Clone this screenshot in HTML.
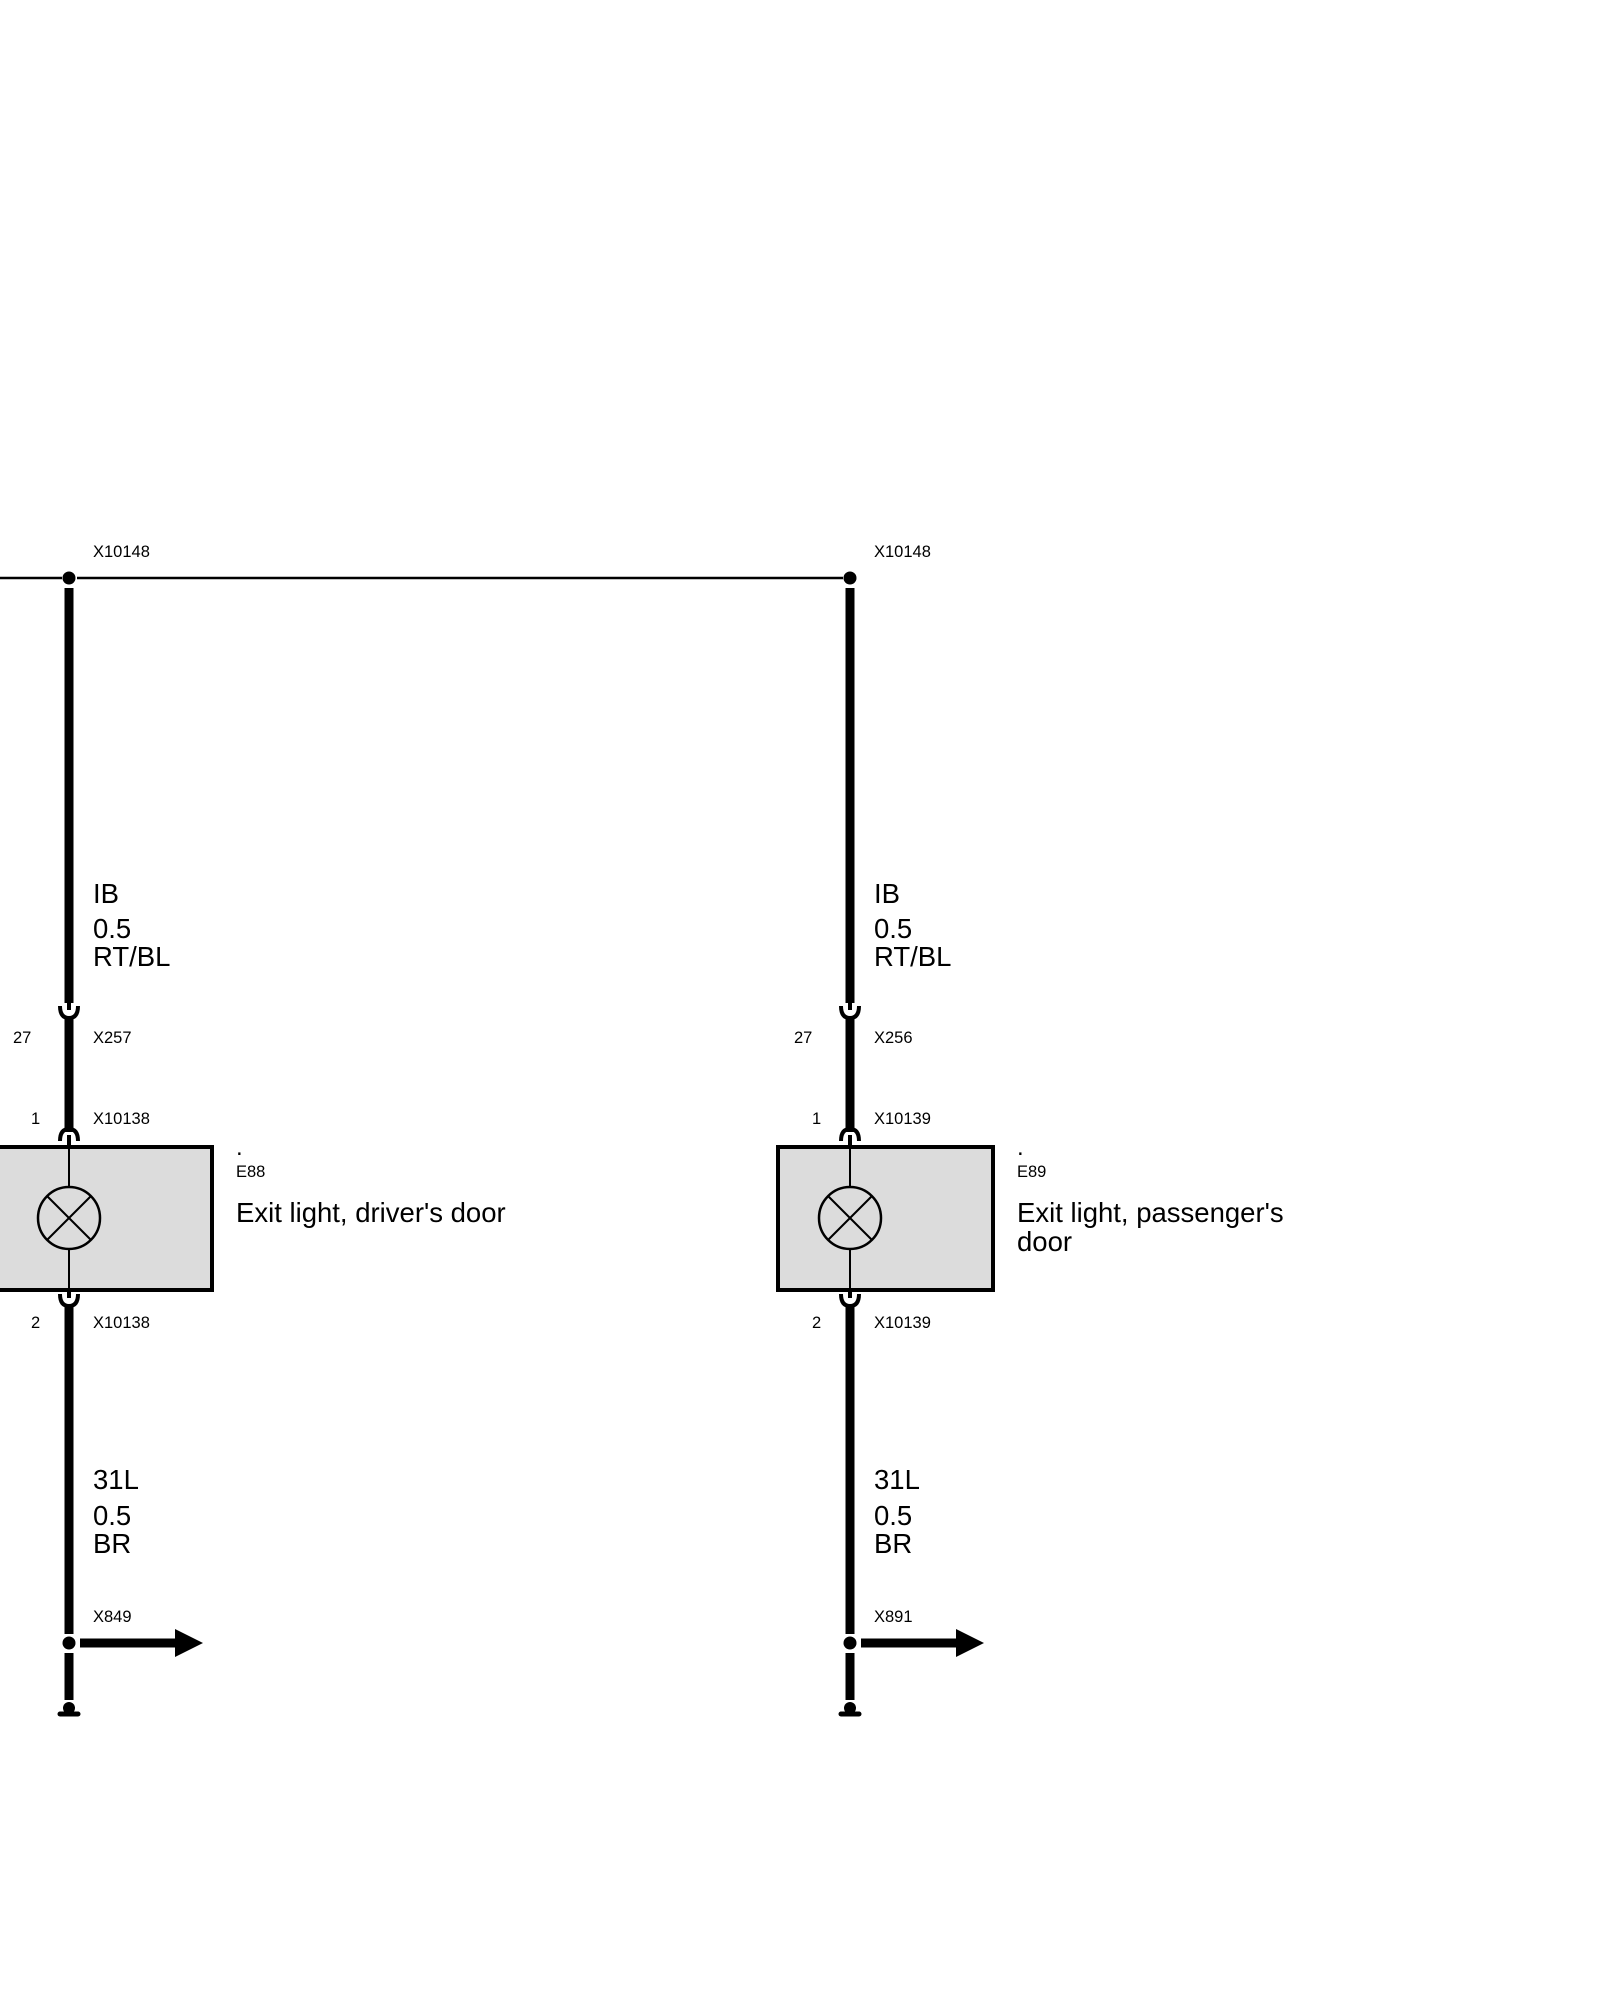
<!DOCTYPE html>
<html><head><meta charset="utf-8"><style>
html,body{margin:0;padding:0;background:#fff}
svg{display:block}
text{font-family:"Liberation Sans",Arial,sans-serif;fill:#000}
.s{font-size:16.5px}.l{font-size:27.5px}.d{font-size:24px}
</style></head><body>
<svg width="1600" height="2000" viewBox="0 0 1600 2000" xmlns="http://www.w3.org/2000/svg">
<line x1="0" y1="578" x2="62" y2="578" stroke="#000" stroke-width="2.5"/>
<line x1="77" y1="578" x2="843" y2="578" stroke="#000" stroke-width="2.5"/>
<rect x="-10" y="1147" width="222" height="143" fill="#dcdcdc" stroke="#000" stroke-width="4"/>
<rect x="778" y="1147" width="215" height="143" fill="#dcdcdc" stroke="#000" stroke-width="4"/>
<g id="L">
<circle cx="69" cy="578" r="6.5" fill="#000"/>
<line x1="69" y1="588" x2="69" y2="1003" stroke="#000" stroke-width="9"/>
<line x1="69" y1="1000" x2="69" y2="1010" stroke="#000" stroke-width="4"/>
<path d="M60,1006 Q60,1018 69,1018 Q78,1018 78,1006" fill="none" stroke="#000" stroke-width="4"/>
<line x1="69" y1="1016" x2="69" y2="1132" stroke="#000" stroke-width="9"/>
<path d="M60,1141 Q60,1129 69,1129 Q78,1129 78,1141" fill="none" stroke="#000" stroke-width="4"/>
<line x1="69" y1="1135" x2="69" y2="1147" stroke="#000" stroke-width="4"/>
<line x1="69" y1="1147" x2="69" y2="1187" stroke="#000" stroke-width="2"/>
<line x1="69" y1="1249" x2="69" y2="1290" stroke="#000" stroke-width="2"/>
<circle cx="69" cy="1218" r="31" fill="none" stroke="#000" stroke-width="2.5"/>
<line x1="47" y1="1196" x2="91" y2="1240" stroke="#000" stroke-width="2"/>
<line x1="91" y1="1196" x2="47" y2="1240" stroke="#000" stroke-width="2"/>
<path d="M60,1294 Q60,1306 69,1306 Q78,1306 78,1294" fill="none" stroke="#000" stroke-width="4"/>
<line x1="69" y1="1288" x2="69" y2="1298" stroke="#000" stroke-width="4"/>
<line x1="69" y1="1304" x2="69" y2="1634" stroke="#000" stroke-width="9"/>
<circle cx="69" cy="1643" r="6.5" fill="#000"/>
<line x1="80" y1="1643" x2="178" y2="1643" stroke="#000" stroke-width="9"/>
<polygon points="175,1629 203,1643 175,1657" fill="#000"/>
<line x1="69" y1="1653" x2="69" y2="1700" stroke="#000" stroke-width="9"/>
<circle cx="69" cy="1708" r="6" fill="#000"/>
<line x1="60" y1="1714" x2="78" y2="1714" stroke="#000" stroke-width="5" stroke-linecap="round"/>
</g>
<use href="#L" x="781" y="0"/>
<g id="T">
<text class="s" x="93" y="557">X10148</text>
<text class="l" x="93" y="903">IB</text>
<text class="l" x="93" y="938">0.5</text>
<text class="l" x="93" y="966">RT/BL</text>
<text class="s" x="13" y="1043">27</text>
<text class="s" x="31" y="1124">1</text>
<text class="s" x="31" y="1328">2</text>
<text class="l" x="93" y="1489">31L</text>
<text class="l" x="93" y="1525">0.5</text>
<text class="l" x="93" y="1553">BR</text>
<text class="d" x="236" y="1155">.</text>
</g>
<use href="#T" x="781" y="0"/>
<text class="s" x="93" y="1043">X257</text>
<text class="s" x="93" y="1124">X10138</text>
<text class="s" x="93" y="1328">X10138</text>
<text class="s" x="93" y="1622">X849</text>
<text class="s" x="236" y="1177">E88</text>
<text class="l" x="236" y="1222">Exit light, driver's door</text>
<text class="s" x="874" y="1043">X256</text>
<text class="s" x="874" y="1124">X10139</text>
<text class="s" x="874" y="1328">X10139</text>
<text class="s" x="874" y="1622">X891</text>
<text class="s" x="1017" y="1177">E89</text>
<text class="l" x="1017" y="1222">Exit light, passenger's</text>
<text class="l" x="1017" y="1251">door</text>
</svg>
</body></html>
